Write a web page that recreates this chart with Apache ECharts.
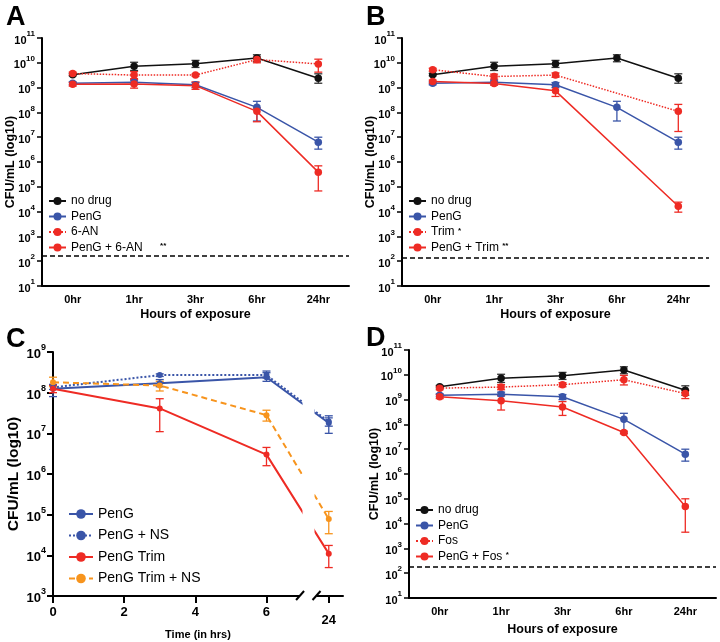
<!DOCTYPE html>
<html>
<head>
<meta charset="utf-8">
<script src="https://cdn.jsdelivr.net/npm/echarts@6/dist/echarts.min.js"></script>
<style>
  body { margin: 0; background: #fff; }
  #wrap { position: relative; width: 720px; height: 642px; }
  .panel { position: absolute; width: 360px; height: 321px; }
</style>
</head>
<body>
<div id="wrap">
  <div class="panel" id="pA" style="left:0;top:0"></div>
  <div class="panel" id="pB" style="left:360px;top:0"></div>
  <div class="panel" id="pC" style="left:0;top:321px"></div>
  <div class="panel" id="pD" style="left:360px;top:321px"></div>
</div>
<script>
const FONT = 'Liberation Sans, Arial, Helvetica, sans-serif';
const BLACK = '#111111';
const BLUE = '#3a55a8';
const RED = '#ee2b24';
const ORANGE = '#f7941d';

// x categories for A, B, D
const hours = ['0hr', '1hr', '3hr', '6hr', '24hr'];
// decade ticks for the log axes
const decadesABD = [1e1, 1e2, 1e3, 1e4, 1e5, 1e6, 1e7, 1e8, 1e9, 1e10, 1e11];
const decadesC = [1e3, 1e4, 1e5, 1e6, 1e7, 1e8, 1e9];

// shared curves (A, B, D)
const noDrug = [3.3e9, 7.3e9, 9.1e9, 1.55e10, 2.4e9];
const noDrugErr = [[3.0e9, 3.7e9], [4.9e9, 1.05e10], [6.5e9, 1.25e10], [1.1e10, 2.1e10], [1.5e9, 3.6e9]];
const penG = [1.5e9, 1.65e9, 1.3e9, 1.6e8, 6.3e6];
const penGErr = [[1.3e9, 1.7e9], [1.4e9, 2.0e9], [1.0e9, 1.6e9], [4.5e7, 2.8e8], [3.3e6, 1.0e7]];

// panel A
const sixAN = [3.7e9, 3.2e9, 3.2e9, 1.35e10, 9e9];
const sixANErr = [[3.2e9, 4.2e9], [2.3e9, 4.4e9], [2.9e9, 3.5e9], [1.0e10, 1.7e10], [4.2e9, 1.4e10]];
const penG6AN = [1.35e9, 1.4e9, 1.2e9, 1.1e8, 3.9e5];
const penG6ANErr = [[1.15e9, 1.6e9], [9.5e8, 2.1e9], [8.5e8, 1.7e9], [4.2e7, 1.5e8], [6.8e4, 7.0e5]];
const lodA = 160;

// panel B
const trim = [5.3e9, 2.8e9, 3.2e9, null, 1.1e8];
const trimErr = [[4.6e9, 6.0e9], [2.2e9, 3.5e9], [2.6e9, 3.9e9], null, [1.7e7, 2.1e8]];
const penGTrim = [1.75e9, 1.45e9, 7.4e8, null, 1.65e4];
const penGTrimErr = [[1.5e9, 2.0e9], [1.25e9, 1.7e9], [4.4e8, 1.2e9], null, [9.5e3, 2.4e4]];
const lodB = 140;

// panel D
const fos = [2.9e9, 3.2e9, 4.0e9, 6.3e9, 1.75e9];
const fosErr = [[2.5e9, 3.4e9], [2.5e9, 4.0e9], [3.3e9, 4.8e9], [3.9e9, 9.5e9], [1.1e9, 2.4e9]];
const penGFos = [1.3e9, 9e8, 5e8, 4.7e7, 4.9e4];
const penGFosErr = [[1.1e9, 1.6e9], [3.8e8, 1.45e9], [2.3e8, 8.3e8], [4.2e7, 5.3e7], [4.5e3, 1.0e5]];
const lodD = 175;

// panel C (time in hours)
const cHours = [0, 3, 6, 24];
const cTicks = [0, 2, 4, 6, 24];
const cPenG = [1.25e8, 1.7e8, 2.4e8, 1.8e7];
const cPenGErr = [[8e7, 1.6e8], [1.4e8, 2.1e8], [1.9e8, 3.4e8], [1.0e7, 2.7e7]];
const cPenGNS = [1.35e8, 2.7e8, 2.7e8, 1.95e7];
const cPenGNSErr = [[1.2e8, 1.5e8], [2.5e8, 2.9e8], [2.3e8, 3.1e8], [1.5e7, 2.4e7]];
const cTrim = [1.25e8, 4.1e7, 3.0e6, 1.1e4];
const cTrimErr = [[1.0e8, 1.5e8], [1.1e7, 7.1e7], [1.6e6, 4.5e6], [5.0e3, 1.75e4]];
const cTrimNS = [1.8e8, 1.5e8, 2.8e7, 7.8e4];
const cTrimNSErr = [[1.4e8, 2.4e8], [1.1e8, 1.9e8], [2.0e7, 3.7e7], [3.4e4, 1.2e5]];

function errRender(params, api) {
  const x = api.value(0);
  const lo = api.coord([x, api.value(1)]);
  const hi = api.coord([x, api.value(2)]);
  const w = 4;
  const style = { stroke: api.visual('color'), lineWidth: 1.3 };
  return {
    type: 'group',
    children: [
      { type: 'line', shape: { x1: lo[0], y1: lo[1], x2: hi[0], y2: hi[1] }, style },
      { type: 'line', shape: { x1: lo[0] - w, y1: lo[1], x2: lo[0] + w, y2: lo[1] }, style },
      { type: 'line', shape: { x1: hi[0] - w, y1: hi[1], x2: hi[0] + w, y2: hi[1] }, style }
    ]
  };
}

function errSeries(xs, err, color) {
  const data = [];
  err.forEach((e, i) => { if (e) data.push([xs[i], e[0], e[1]]); });
  return {
    type: 'custom',
    renderItem: errRender,
    itemStyle: { color: color, opacity: 0.6 },
    encode: { x: 0, y: [1, 2] },
    data: data,
    z: 1,
    silent: true
  };
}

function logLabel(size, supSize, ticks) {
  return {
    fontFamily: FONT,
    margin: 7,
    customValues: ticks,
    formatter: v => '{b|10}{s|' + Math.round(Math.log10(v)) + '}',
    rich: {
      b: { fontSize: size, fontWeight: 'bold', color: '#000', fontFamily: FONT, lineHeight: size + 5, verticalAlign: 'bottom' },
      s: { fontSize: supSize, fontWeight: 'bold', color: '#000', fontFamily: FONT, lineHeight: supSize + 1, verticalAlign: 'top' }
    }
  };
}

function hourPanel(id, letter, grid, curves, lod, stars, starPad) {
  const chart = echarts.init(document.getElementById(id));
  const series = [];
  curves.forEach(c => {
    series.push({
      name: c.name,
      type: 'line',
      data: c.vals.map(v => (v === null ? '-' : v)),
      connectNulls: true,
      symbol: 'circle',
      symbolSize: 7.5,
      color: c.color,
      lineStyle: { width: 1.5, type: c.dotted ? 'dotted' : 'solid', color: c.color },
      itemStyle: { color: c.color },
      z: 3
    });
    series.push(errSeries(hours.map((h, i) => i), c.err, c.errColor || c.color));
  });
  series[0].markLine = {
    silent: true,
    symbol: 'none',
    label: { show: false },
    lineStyle: { color: '#000', type: [5, 3], width: 1.5 },
    data: [{ yAxis: lod }]
  };
  chart.setOption({
    animation: false,
    textStyle: { fontFamily: FONT },
    title: { text: letter, left: 1, top: -1, textStyle: { fontSize: 27, fontWeight: 'bold', color: '#000', fontFamily: FONT } },
    grid: { left: grid.left, top: grid.top, width: grid.width, height: grid.height, outerBoundsMode: 'none' },
    legend: {
      orient: 'vertical',
      left: grid.left + 1,
      top: grid.legendTop,
      itemWidth: 17,
      itemHeight: 10,
      itemGap: 3.5,
      data: curves.map(c => c.name),
      textStyle: {
        fontSize: 12, color: '#000', fontFamily: FONT,
        rich: { s: { fontSize: 8, fontWeight: 'bold', color: '#000', padding: [0, 0, 3, starPad], fontFamily: FONT } }
      },
      formatter: n => (stars[n] ? n + ' {s|' + stars[n] + '}' : n)
    },
    xAxis: {
      type: 'category',
      data: hours,
      boundaryGap: true,
      name: 'Hours of exposure',
      nameLocation: 'middle',
      nameGap: grid.xNameGap,
      nameMoveOverlap: false,
      nameTextStyle: { fontSize: 12.5, fontWeight: 'bold', color: '#000', fontFamily: FONT },
      axisLine: { lineStyle: { color: '#000', width: 2 } },
      axisTick: { alignWithLabel: true, length: 5, lineStyle: { color: '#000', width: 1.5 } },
      axisLabel: { fontSize: 11, fontWeight: 'bold', color: '#000', margin: 8, fontFamily: FONT },
      splitLine: { show: false }
    },
    yAxis: {
      type: 'log',
      logBase: 10,
      min: 10,
      max: 1e11,
      name: 'CFU/mL (log10)',
      nameLocation: 'middle',
      nameGap: grid.yNameGap,
      nameMoveOverlap: false,
      nameTextStyle: { fontSize: 12.5, fontWeight: 'bold', color: '#000', fontFamily: FONT },
      axisLine: { show: true, lineStyle: { color: '#000', width: 2 } },
      axisTick: { show: true, customValues: decadesABD, length: 5, lineStyle: { color: '#000', width: 1.5 } },
      minorTick: { show: false },
      splitLine: { show: false },
      axisLabel: logLabel(11, 8, decadesABD)
    },
    series: series
  });
  return chart;
}

hourPanel('pA', 'A', { left: 42, top: 38, width: 307, height: 248, legendTop: 190, xNameGap: 22, yNameGap: 25 }, [
  { name: 'no drug', vals: noDrug, err: noDrugErr, color: BLACK, errColor: '#333' },
  { name: 'PenG', vals: penG, err: penGErr, color: BLUE },
  { name: '6-AN', vals: sixAN, err: sixANErr, color: RED, dotted: true },
  { name: 'PenG + 6-AN', vals: penG6AN, err: penG6ANErr, color: RED }
], lodA, { 'PenG + 6-AN': '**' }, 14);

hourPanel('pB', 'B', { left: 42, top: 38, width: 307, height: 248, legendTop: 190, xNameGap: 22, yNameGap: 25 }, [
  { name: 'no drug', vals: noDrug, err: noDrugErr, color: BLACK, errColor: '#333' },
  { name: 'PenG', vals: penG, err: penGErr, color: BLUE },
  { name: 'Trim', vals: trim, err: trimErr, color: RED, dotted: true },
  { name: 'PenG + Trim', vals: penGTrim, err: penGTrimErr, color: RED }
], lodB, { 'Trim': '*', 'PenG + Trim': '**' }, 0);

hourPanel('pD', 'D', { left: 49, top: 29, width: 307, height: 248, legendTop: 178, xNameGap: 25, yNameGap: 28 }, [
  { name: 'no drug', vals: noDrug, err: noDrugErr, color: BLACK, errColor: '#333' },
  { name: 'PenG', vals: penG, err: penGErr, color: BLUE },
  { name: 'Fos', vals: fos, err: fosErr, color: RED, dotted: true },
  { name: 'PenG + Fos', vals: penGFos, err: penGFosErr, color: RED }
], lodD, { 'PenG + Fos': '*' }, 0);

// panel C: value axis with a break between 7 and 23.6 h
const chartC = echarts.init(document.getElementById('pC'));
const cCurves = [
  { name: 'PenG', vals: cPenG, err: cPenGErr, color: BLUE, type: 'solid' },
  { name: 'PenG + NS', vals: cPenGNS, err: cPenGNSErr, color: BLUE, type: 'dotted' },
  { name: 'PenG Trim', vals: cTrim, err: cTrimErr, color: RED, type: 'solid' },
  { name: 'PenG Trim + NS', vals: cTrimNS, err: cTrimNSErr, color: ORANGE, type: 'dashed' }
];
const cSeries = [];
cCurves.forEach(c => {
  cSeries.push({
    name: c.name,
    type: 'line',
    data: cHours.map((h, i) => [h, c.vals[i]]),
    symbol: 'circle',
    symbolSize: 6,
    color: c.color,
    lineStyle: { width: 2, type: c.type === 'dashed' ? [6, 4] : c.type, color: c.color },
    itemStyle: { color: c.color },
    z: 3
  });
  cSeries.push(errSeries(cHours, c.err, c.color));
});
chartC.setOption({
  animation: false,
  textStyle: { fontFamily: FONT },
  title: { text: 'C', left: 1, top: 0, textStyle: { fontSize: 27, fontWeight: 'bold', color: '#000', fontFamily: FONT } },
  grid: { left: 53, top: 31, width: 290, height: 244, outerBoundsMode: 'none' },
  legend: {
    orient: 'vertical',
    left: 63,
    top: 181,
    itemWidth: 24,
    itemHeight: 12,
    itemGap: 7.5,
    data: cCurves.map(c => c.name),
    textStyle: { fontSize: 14, color: '#000', fontFamily: FONT }
  },
  xAxis: {
    type: 'value',
    min: 0,
    max: 24.4,
    breaks: [{ start: 7, end: 23.6, gap: '4.3%' }],
    breakArea: { show: true, itemStyle: { color: '#fff', borderColor: 'rgba(0,0,0,0)', borderWidth: 0, opacity: 1 }, zigzagAmplitude: 0 },
    name: 'Time (in hrs)',
    nameLocation: 'middle',
    nameGap: 33,
    nameMoveOverlap: false,
    nameTextStyle: { fontSize: 11, fontWeight: 'bold', color: '#000', fontFamily: FONT },
    axisLine: { lineStyle: { color: '#000', width: 2 } },
    axisTick: { customValues: cTicks, length: 7, lineStyle: { color: '#000', width: 2 } },
    axisLabel: {
      customValues: cTicks,
      margin: 10,
      fontFamily: FONT,
      formatter: v => (v === 24 ? '{d|24}' : '{n|' + v + '}'),
      rich: {
        n: { fontSize: 13, fontWeight: 'bold', color: '#000', fontFamily: FONT },
        d: { fontSize: 13, fontWeight: 'bold', color: '#000', fontFamily: FONT, padding: [8, 0, 0, 0] }
      }
    },
    splitLine: { show: false }
  },
  yAxis: {
    type: 'log',
    logBase: 10,
    min: 1e3,
    max: 1e9,
    name: 'CFU/mL (log10)',
    nameLocation: 'middle',
    nameGap: 31,
    nameMoveOverlap: false,
    nameTextStyle: { fontSize: 15.5, fontWeight: 'bold', color: '#000', fontFamily: FONT },
    axisLine: { show: true, lineStyle: { color: '#000', width: 2 } },
    axisTick: { show: true, customValues: decadesC, length: 6, lineStyle: { color: '#000', width: 2 } },
    minorTick: { show: false },
    splitLine: { show: false },
    axisLabel: logLabel(13, 9, decadesC)
  },
  series: cSeries
});

// break marks on the x axis line: blank the gap and add two slashes
const bx0 = chartC.convertToPixel({ xAxisIndex: 0 }, 7);
const bx1 = chartC.convertToPixel({ xAxisIndex: 0 }, 23.6);
const by = chartC.convertToPixel({ yAxisIndex: 0 }, 1e3);
const slash = { stroke: '#000', lineWidth: 2 };
chartC.setOption({
  graphic: [
    { type: 'rect', shape: { x: bx0 - 2, y: by - 3, width: bx1 - bx0 + 4, height: 6 }, style: { fill: '#fff' }, z: 100 },
    { type: 'line', shape: { x1: bx0 - 6, y1: by + 4, x2: bx0 + 2, y2: by - 5 }, style: slash, z: 101 },
    { type: 'line', shape: { x1: bx1 - 2, y1: by + 4, x2: bx1 + 6, y2: by - 5 }, style: slash, z: 101 }
  ]
});
</script>
</body>
</html>
